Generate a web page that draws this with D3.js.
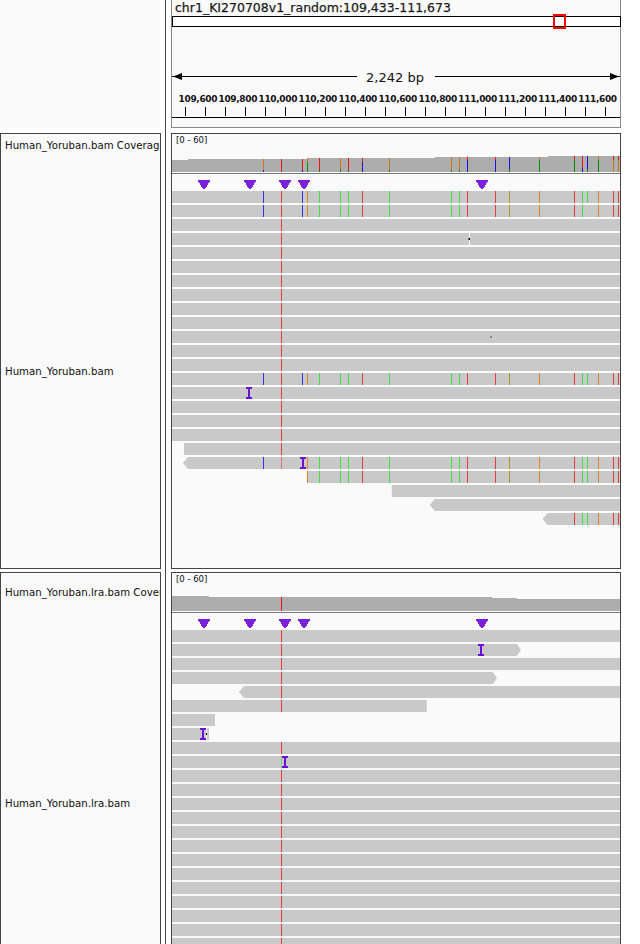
<!DOCTYPE html>
<html>
<head>
<meta charset="utf-8">
<script src="https://cdn.jsdelivr.net/npm/d3@7"></script>
<style>
html, body { margin: 0; padding: 0; background: #fff; }
svg { display: block; }
text { font-family: "DejaVu Sans", sans-serif; fill: #111; }
</style>
</head>
<body>
<script>
// locus
var locusLabel = "chr1_KI270708v1_random:109,433-111,673";
var spanLabel = "2,242 bp";
var locusStart = 109433, locusEnd = 111675;

// ruler
var minorTicks = d3.range(109500, 111700, 100);
var majorLabels = [109600, 109800, 110000, 110200, 110400, 110600, 110800, 111000, 111200, 111400, 111600];

// tracks
var trackNames = ["Human_Yoruban.bam Coverage", "Human_Yoruban.bam", "Human_Yoruban.lra.bam Coverage", "Human_Yoruban.lra.bam"];
var rangeLabel = "[0 - 60]";

// insertion markers above the reads (same for both bams)
var insertionMarks = [109593, 109823, 109998, 110093, 110983];

// coverage steps: start position, depth
var bamCovStarts = [109433, 109513, 110108, 110749, 111315];
var bamCovDepth = [18, 19.5, 21, 22.5, 24];
var lraCovStarts = [109433, 109618, 111034, 111159];
var lraCovDepth = [22.5, 21, 19.5, 18];

// mismatch columns
var varPos = [109888, 109978, 110083, 110108, 110168, 110273, 110313, 110383, 110518, 110828, 110868, 110908, 111048, 111118, 111268, 111443, 111483, 111508, 111563, 111638, 111663];
var varTop = ["o", "r", "r", "o", "r", "o", "r", "r", "o", "o", "o", "r", "r", "b", "o", "r", "r", "b", "o", "r", "r"];
var varBottom = ["b", "r", "b", "g", "g", "g", "g", "b", "g", "g", "g", "b", "b", "g", "g", "g", "b", "g", "g", "o", "o"];
var varBottomDepth = [3, 0, 3, 15, 3, 4, 3, 15, 3, 3, 3, 18, 18, 4, 18, 18, 6, 4, 18, 18, 18];
var varRead = ["b", "r", "b", "o", "g", "g", "g", "r", "g", "g", "g", "r", "r", "y", "o", "r", "g", "g", "o", "r", "r"];

// bam reads: start, end, strand arrow (0 none, -1 left)
var bamStart = [109433, 109433, 109433, 109433, 109433, 109433, 109433, 109433, 109433, 109433, 109433, 109433, 109433, 109433, 109433, 109433, 109433, 109433, 109493, 109488, 110108, 110533, 110723, 111288];
var bamEnd = bamStart.map(function() { return locusEnd; });
var bamArrow = [0, 0, 0, 0, 0, 0, 0, 0, 0, 0, 0, 0, 0, 0, 0, 0, 0, 0, 0, -1, 0, 0, -1, -1];
var bamVarRows = [0, 1, 13, 19, 20, 23];
var bamIns = [[14, 109818], [19, 110088]];
var bamSkip = {1: [111508], 19: [110083], 20: [109888, 109978, 110083], 23: []};

// lra reads
var lraStart = [109433, 109433, 109433, 109433, 109768, 109433, 109433, 109433, 109433, 109433, 109433, 109433, 109433, 109433, 109433, 109433, 109433, 109433, 109433, 109433, 109433, 109433, 109433];
var lraEnd = [111675, 111179, 111675, 111059, 111675, 110708, 109648, 109618, 111675, 111675, 111675, 111675, 111675, 111675, 111675, 111675, 111675, 111675, 111675, 111675, 111675, 111675, 111675];
var lraArrow = [0, 1, 0, 1, -1, 0, 0, 0, 0, 0, 0, 0, 0, 0, 0, 0, 0, 0, 0, 0, 0, 0, 0];
var lraIns = [[1, 110978], [7, 109588], [9, 109998]];

var baseColor = { r: "#e83a3a", g: "#3fe03f", b: "#3333ee", o: "#dd8228", y: "#a89a22" };
var covColor = { r: "#f01414", g: "#008a00", b: "#1414e0", o: "#c87a1e" };

var svg = d3.select("body").append("svg").attr("width", 640).attr("height", 944);

var x = d3.scaleLinear().domain([locusStart, locusEnd]).range([172, 620]);

function panel(px, py, w, h, col) {
    svg.append("rect").attr("x", px + 0.5).attr("y", py + 0.5).attr("width", w).attr("height", h)
        .attr("fill", "#fafafa").attr("stroke", col || "#444");
}

// left column and panels
svg.append("rect").attr("x", 0).attr("y", 0).attr("width", 160).attr("height", 128).attr("fill", "#fafafa");
panel(0, 133, 160, 435);
panel(0, 572, 160, 380);
panel(171, -5, 449, 132, "#888");
panel(171, 133, 449, 435);
panel(171, 572, 449, 380);
svg.append("rect").attr("x", 165).attr("y", 0).attr("width", 1).attr("height", 944).attr("fill", "#444");

// header
svg.append("text").attr("x", 175).attr("y", 12).attr("font-size", 12.5).attr("fill", "#333")
    .attr("stroke", "#333").attr("stroke-width", 0.25).text(locusLabel);
svg.append("rect").attr("x", 172.5).attr("y", 16.5).attr("width", 448).attr("height", 10).attr("fill", "#fff").attr("stroke", "#000");
svg.append("rect").attr("x", 554).attr("y", 15).attr("width", 11).attr("height", 13).attr("fill", "none").attr("stroke", "#f00").attr("stroke-width", 2);

svg.append("line").attr("x1", 172).attr("x2", 357).attr("y1", 76.5).attr("y2", 76.5).attr("stroke", "#000");
svg.append("line").attr("x1", 435).attr("x2", 620).attr("y1", 76.5).attr("y2", 76.5).attr("stroke", "#000");
svg.append("path").attr("d", "M173,76.5L182,73V80Z").attr("fill", "#000");
svg.append("path").attr("d", "M619,76.5L610,73V80Z").attr("fill", "#000");
svg.append("text").attr("x", 395).attr("y", 82).attr("text-anchor", "middle").attr("font-size", 13).text(spanLabel);

// ruler, ticks from the scale
var ruler = svg.append("g");
ruler.selectAll("line").data(minorTicks).enter().append("line")
    .attr("x1", function(d) { return Math.round(x(d)) + 0.5; })
    .attr("x2", function(d) { return Math.round(x(d)) + 0.5; })
    .attr("y1", 107).attr("y2", 116).attr("stroke", "#000");
ruler.selectAll("text").data(majorLabels).enter().append("text")
    .attr("x", function(d) { return x(d) - 7.5; })
    .attr("y", 102).attr("text-anchor", "middle").attr("font-size", 9).attr("font-weight", "bold")
    .attr("letter-spacing", -0.35)
    .text(d3.format(","));
svg.append("line").attr("x1", 172).attr("x2", 620).attr("y1", 117.5).attr("y2", 117.5).attr("stroke", "#000");

// track names
var nameY = [149, 375, 596, 807];
svg.append("clipPath").attr("id", "nameClip").append("rect").attr("x", 0).attr("y", 0).attr("width", 160).attr("height", 944);
svg.append("g").attr("clip-path", "url(#nameClip)").selectAll("text").data(trackNames).enter().append("text")
    .attr("x", 5).attr("y", function(d, i) { return nameY[i]; })
    .attr("font-size", 10.2).text(function(d) { return d; });

function coverage(base, starts, depth, showVars) {
    var y = d3.scaleLinear().domain([0, 60]).range([base, base - 40]);
    var g = svg.append("g").attr("shape-rendering", "crispEdges");
    g.selectAll("rect").data(starts).enter().append("rect")
        .attr("x", function(d) { return x(d); })
        .attr("width", function(d, i) { return x(i + 1 < starts.length ? starts[i + 1] : locusEnd) - x(d); })
        .attr("y", function(d, i) { return y(depth[i]); })
        .attr("height", function(d, i) { return base - y(depth[i]); })
        .attr("fill", "#adadad");
    function depthAt(p) {
        return depth[d3.bisectRight(starts, p) - 1];
    }
    var idx = showVars ? d3.range(varPos.length) : [1];
    idx.forEach(function(i) {
        var px = Math.round(x(varPos[i]));
        var total = depthAt(varPos[i]), low = showVars ? varBottomDepth[i] : 0;
        g.append("rect").attr("x", px).attr("width", 1).attr("y", y(total)).attr("height", y(low) - y(total)).attr("fill", covColor[varTop[i]]);
        if (low > 0) g.append("rect").attr("x", px).attr("width", 1).attr("y", y(low)).attr("height", base - y(low)).attr("fill", covColor[varBottom[i]]);
    });
    svg.append("rect").attr("x", 172).attr("y", base + 1).attr("width", 448).attr("height", 1).attr("fill", "#777");
    svg.append("text").attr("x", 176).attr("y", base - 29).attr("font-size", 8.5).text(rangeLabel);
}
coverage(172, bamCovStarts, bamCovDepth, true);
coverage(611, lraCovStarts, lraCovDepth, false);

function markers(top) {
    svg.append("g").attr("shape-rendering", "crispEdges").selectAll("path").data(insertionMarks).enter().append("path")
        .attr("d", function(d) {
            var c = Math.round(x(d));
            return "M" + (c - 6) + "," + top + "H" + (c + 6) + "V" + (top + 1) + "L" + (c + 1) + "," + (top + 9) + "H" + (c - 1) + "L" + (c - 6) + "," + (top + 1) + "Z";
        })
        .attr("fill", "#7a1fdc");
}
markers(180);
markers(619);

function readPath(s, e, arrow, y0, h) {
    var a = x(s), b = x(e);
    if (arrow < 0) return "M" + (a + 5) + "," + y0 + "H" + b + "V" + (y0 + h) + "H" + (a + 5) + "L" + a + "," + (y0 + h / 2) + "Z";
    if (arrow > 0) return "M" + a + "," + y0 + "H" + (b - 4) + "L" + b + "," + (y0 + h / 2) + "L" + (b - 4) + "," + (y0 + h) + "H" + a + "Z";
    return "M" + a + "," + y0 + "H" + b + "V" + (y0 + h) + "H" + a + "Z";
}

function insertion(cx, y0) {
    var c = Math.round(x(cx));
    var g = svg.append("g").attr("shape-rendering", "crispEdges").attr("fill", "#6a10d8");
    g.append("rect").attr("x", c - 3).attr("y", y0).attr("width", 6).attr("height", 2);
    g.append("rect").attr("x", c - 1).attr("y", y0).attr("width", 2).attr("height", 12);
    g.append("rect").attr("x", c - 3).attr("y", y0 + 10).attr("width", 6).attr("height", 2);
}

function reads(top, starts, ends, arrows) {
    var rowY = function(i) { return top + i * 14; };
    svg.append("g").selectAll("path").data(starts).enter().append("path")
        .attr("d", function(d, i) { return readPath(d, ends[i], arrows[i], rowY(i), 12); })
        .attr("fill", "#c9c9c9");
    return rowY;
}

// bam reads
var bamRow = reads(191, bamStart, bamEnd, bamArrow);
var marks = svg.append("g").attr("shape-rendering", "crispEdges");
function mismatch(row, i, op) {
    marks.append("rect").attr("x", Math.round(x(varPos[i]))).attr("y", bamRow(row)).attr("width", 1).attr("height", 12)
        .attr("fill", baseColor[varRead[i]]).attr("opacity", op || 1);
}
bamVarRows.forEach(function(row) {
    varPos.forEach(function(p, i) {
        if (i === 1) return;
        if (row === 23 && p < 111288) return;
        if (bamSkip[row] && bamSkip[row].indexOf(p) >= 0) return;
        mismatch(row, i);
    });
});
d3.range(0, 20).forEach(function(row) { mismatch(row, 1, row === 19 ? 0.6 : 1); });
bamIns.forEach(function(d) { insertion(d[1], bamRow(d[0])); });

// small marks on two plain reads
svg.append("rect").attr("x", 469).attr("y", bamRow(3)).attr("width", 1).attr("height", 12).attr("fill", "#fff").attr("shape-rendering", "crispEdges");
svg.append("rect").attr("x", 468).attr("y", 238).attr("width", 1).attr("height", 2).attr("fill", "#666").attr("shape-rendering", "crispEdges");
svg.append("rect").attr("x", 469).attr("y", 238).attr("width", 1).attr("height", 2).attr("fill", "#000").attr("shape-rendering", "crispEdges");
svg.append("rect").attr("x", 490).attr("y", 336).attr("width", 2).attr("height", 2).attr("fill", "#888").attr("shape-rendering", "crispEdges");

// lra reads
var lraRow = reads(630, lraStart, lraEnd, lraArrow);
svg.append("rect").attr("x", 206).attr("y", lraRow(7)).attr("width", 1).attr("height", 12).attr("fill", "#fafafa").attr("shape-rendering", "crispEdges");
svg.append("rect").attr("x", 206).attr("y", lraRow(7) + 5).attr("width", 1).attr("height", 2).attr("fill", "#000").attr("shape-rendering", "crispEdges");
lraStart.forEach(function(d, row) {
    if (row === 6 || row === 7) return;
    svg.append("rect").attr("x", Math.round(x(varPos[1]))).attr("y", lraRow(row)).attr("width", 1).attr("height", 12)
        .attr("shape-rendering", "crispEdges")
        .attr("fill", row === 9 ? "#7fd07f" : baseColor.r);
});
lraIns.forEach(function(d) { insertion(d[1], lraRow(d[0])); });
</script>
</body>
</html>
